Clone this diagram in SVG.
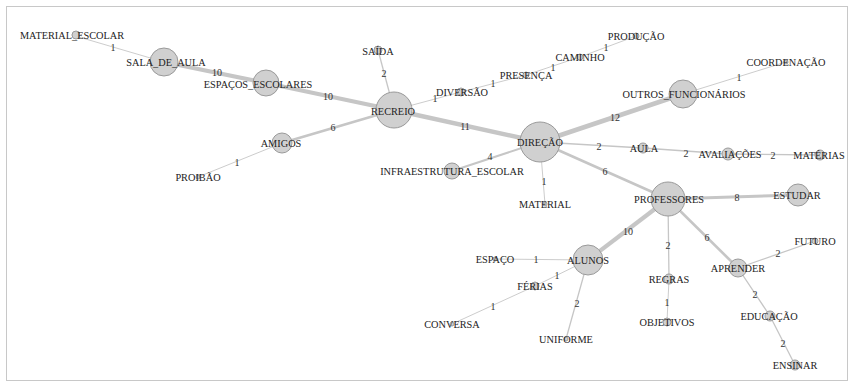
<svg xmlns="http://www.w3.org/2000/svg" width="851" height="390" viewBox="0 0 851 390">
<style>
.bg{fill:#ffffff}
.frame{fill:none;stroke:#c8c8c8;stroke-width:1}
.e{stroke:#c6c6c6;stroke-linecap:round;fill:none}
.w1{stroke-width:0.9}
.w2{stroke-width:1.3}
.w4{stroke-width:2}
.w6{stroke-width:2.6}
.w8{stroke-width:3}
.w10{stroke-width:4.2}
.w11{stroke-width:4.4}
.w12{stroke-width:4.8}
.el{font-family:"Liberation Serif","Times New Roman",serif;font-size:10px;fill:#333;text-anchor:middle}
.n circle{fill:#d0d0d0;stroke:#9a9a9a;stroke-width:1}
.n text{font-family:"Liberation Serif","Times New Roman",serif;font-size:10.3px;fill:#222;text-anchor:middle}
</style>
<rect class="bg" x="0" y="0" width="851" height="390"/>
<rect class="frame" x="6.5" y="6.5" width="841" height="374"/>
<g id="connectors">
<line class="e w1" x1="72" y1="35" x2="164" y2="62"/>
<line class="e w10" x1="164" y1="62" x2="266" y2="83"/>
<line class="e w10" x1="266" y1="83" x2="394" y2="110"/>
<line class="e w2" x1="378" y1="50" x2="394" y2="110"/>
<line class="e w1" x1="394" y1="110" x2="461" y2="92"/>
<line class="e w1" x1="461" y1="92" x2="526" y2="75"/>
<line class="e w1" x1="526" y1="75" x2="580" y2="57"/>
<line class="e w1" x1="580" y1="57" x2="636" y2="36"/>
<line class="e w6" x1="394" y1="110" x2="282" y2="143"/>
<line class="e w1" x1="282" y1="143" x2="198" y2="177"/>
<line class="e w11" x1="394" y1="110" x2="540" y2="142"/>
<line class="e w4" x1="452" y1="171" x2="540" y2="142"/>
<line class="e w1" x1="540" y1="142" x2="545" y2="204"/>
<line class="e w12" x1="540" y1="142" x2="683" y2="94"/>
<line class="e w1" x1="683" y1="94" x2="786" y2="62"/>
<line class="e w2" x1="540" y1="142" x2="643" y2="148"/>
<line class="e w2" x1="643" y1="148" x2="728" y2="154"/>
<line class="e w2" x1="728" y1="154" x2="820" y2="155"/>
<line class="e w6" x1="540" y1="142" x2="668" y2="199"/>
<line class="e w8" x1="668" y1="199" x2="798" y2="195"/>
<line class="e w10" x1="668" y1="199" x2="588" y2="260"/>
<line class="e w1" x1="588" y1="260" x2="495" y2="259"/>
<line class="e w1" x1="588" y1="260" x2="535" y2="286"/>
<line class="e w1" x1="535" y1="286" x2="452" y2="324"/>
<line class="e w2" x1="588" y1="260" x2="566" y2="339"/>
<line class="e w2" x1="668" y1="199" x2="669" y2="279"/>
<line class="e w1" x1="669" y1="279" x2="667" y2="322"/>
<line class="e w6" x1="668" y1="199" x2="738" y2="268"/>
<line class="e w2" x1="738" y1="268" x2="815" y2="241"/>
<line class="e w2" x1="738" y1="268" x2="770" y2="316"/>
<line class="e w2" x1="770" y1="316" x2="795" y2="365"/>
<text class="el" x="113" y="50.5">1</text>
<text class="el" x="217" y="75.5">10</text>
<text class="el" x="328" y="99.5">10</text>
<text class="el" x="384" y="76.5">2</text>
<text class="el" x="435" y="101.5">1</text>
<text class="el" x="493" y="86.5">1</text>
<text class="el" x="553" y="70.5">1</text>
<text class="el" x="606" y="50.5">1</text>
<text class="el" x="333" y="130.5">6</text>
<text class="el" x="237" y="165.5">1</text>
<text class="el" x="465" y="129.5">11</text>
<text class="el" x="490" y="159.5">4</text>
<text class="el" x="544" y="184.5">1</text>
<text class="el" x="615" y="120.5">12</text>
<text class="el" x="739" y="80.5">1</text>
<text class="el" x="599" y="149.5">2</text>
<text class="el" x="686" y="156.5">2</text>
<text class="el" x="773" y="158.5">2</text>
<text class="el" x="605" y="174.5">6</text>
<text class="el" x="737" y="200.5">8</text>
<text class="el" x="628" y="234.5">10</text>
<text class="el" x="536" y="262.5">1</text>
<text class="el" x="557" y="278.5">1</text>
<text class="el" x="493" y="309.5">1</text>
<text class="el" x="577" y="306.5">2</text>
<text class="el" x="668" y="248.5">2</text>
<text class="el" x="667" y="305.5">1</text>
<text class="el" x="707" y="240.5">6</text>
<text class="el" x="778" y="256.5">2</text>
<text class="el" x="755" y="297.5">2</text>
<text class="el" x="783" y="346.5">2</text>
</g>
<g id="n-material-escolar" class="n"><circle cx="76" cy="35" r="4"/><text x="72" y="38.5">MATERIAL_ESCOLAR</text></g>
<g id="n-sala-de-aula" class="n"><circle cx="164" cy="62" r="14"/><text x="166" y="65.5">SALA_DE_AULA</text></g>
<g id="n-espacos-escolares" class="n"><circle cx="266" cy="83" r="13"/><text x="258" y="87.5">ESPAÇOS_ESCOLARES</text></g>
<g id="n-recreio" class="n"><circle cx="394" cy="110" r="18"/><text x="393" y="114.5">RECREIO</text></g>
<g id="n-saida" class="n"><circle cx="378" cy="50" r="4"/><text x="378" y="54.5">SAÍDA</text></g>
<g id="n-diversao" class="n"><circle cx="461" cy="92" r="4"/><text x="462" y="95.5">DIVERSÃO</text></g>
<g id="n-presenca" class="n"><circle cx="526" cy="75" r="3"/><text x="526" y="78.5">PRESENÇA</text></g>
<g id="n-caminho" class="n"><circle cx="580" cy="57" r="3"/><text x="580" y="60.5">CAMINHO</text></g>
<g id="n-producao" class="n"><circle cx="636" cy="36" r="3"/><text x="636" y="39.5">PRODUÇÃO</text></g>
<g id="n-amigos" class="n"><circle cx="282" cy="143" r="10"/><text x="281" y="146.5">AMIGOS</text></g>
<g id="n-proibao" class="n"><circle cx="198" cy="177" r="2"/><text x="198" y="180.5">PROIBÃO</text></g>
<g id="n-infraestrutura" class="n"><circle cx="452" cy="171" r="8"/><text x="452" y="174.5">INFRAESTRUTURA_ESCOLAR</text></g>
<g id="n-direcao" class="n"><circle cx="540" cy="142" r="20"/><text x="540" y="145.5">DIREÇÃO</text></g>
<g id="n-material" class="n"><circle cx="545" cy="204" r="2"/><text x="545" y="207.5">MATERIAL</text></g>
<g id="n-outros-funcionarios" class="n"><circle cx="683" cy="94" r="14"/><text x="684" y="97.5">OUTROS_FUNCIONÁRIOS</text></g>
<g id="n-coordenacao" class="n"><circle cx="786" cy="62" r="2"/><text x="786" y="65.5">COORDENAÇÃO</text></g>
<g id="n-aula" class="n"><circle cx="643" cy="148" r="5"/><text x="644" y="151.5">AULA</text></g>
<g id="n-avaliacoes" class="n"><circle cx="728" cy="154" r="6"/><text x="730" y="157.5">AVALIAÇÕES</text></g>
<g id="n-materias" class="n"><circle cx="820" cy="155" r="5"/><text x="819" y="158.5">MATÉRIAS</text></g>
<g id="n-professores" class="n"><circle cx="668" cy="199" r="17"/><text x="669" y="202.5">PROFESSORES</text></g>
<g id="n-estudar" class="n"><circle cx="798" cy="195" r="11"/><text x="797" y="198.5">ESTUDAR</text></g>
<g id="n-alunos" class="n"><circle cx="588" cy="260" r="15"/><text x="588" y="263.5">ALUNOS</text></g>
<g id="n-espaco" class="n"><circle cx="495" cy="259" r="2"/><text x="495" y="262.5">ESPAÇO</text></g>
<g id="n-ferias" class="n"><circle cx="535" cy="286" r="4"/><text x="535" y="289.5">FÉRIAS</text></g>
<g id="n-conversa" class="n"><circle cx="452" cy="324" r="2"/><text x="452" y="327.5">CONVERSA</text></g>
<g id="n-uniforme" class="n"><circle cx="566" cy="339" r="2"/><text x="566" y="342.5">UNIFORME</text></g>
<g id="n-regras" class="n"><circle cx="669" cy="279" r="5"/><text x="669" y="282.5">REGRAS</text></g>
<g id="n-objetivos" class="n"><circle cx="667" cy="322" r="4"/><text x="667" y="325.5">OBJETIVOS</text></g>
<g id="n-aprender" class="n"><circle cx="738" cy="268" r="9"/><text x="738" y="271.5">APRENDER</text></g>
<g id="n-futuro" class="n"><circle cx="815" cy="241" r="3"/><text x="815" y="244.5">FUTURO</text></g>
<g id="n-educacao" class="n"><circle cx="770" cy="316" r="5"/><text x="769" y="319.5">EDUCAÇÃO</text></g>
<g id="n-ensinar" class="n"><circle cx="795" cy="365" r="5"/><text x="795" y="368.5">ENSINAR</text></g>
</svg>
